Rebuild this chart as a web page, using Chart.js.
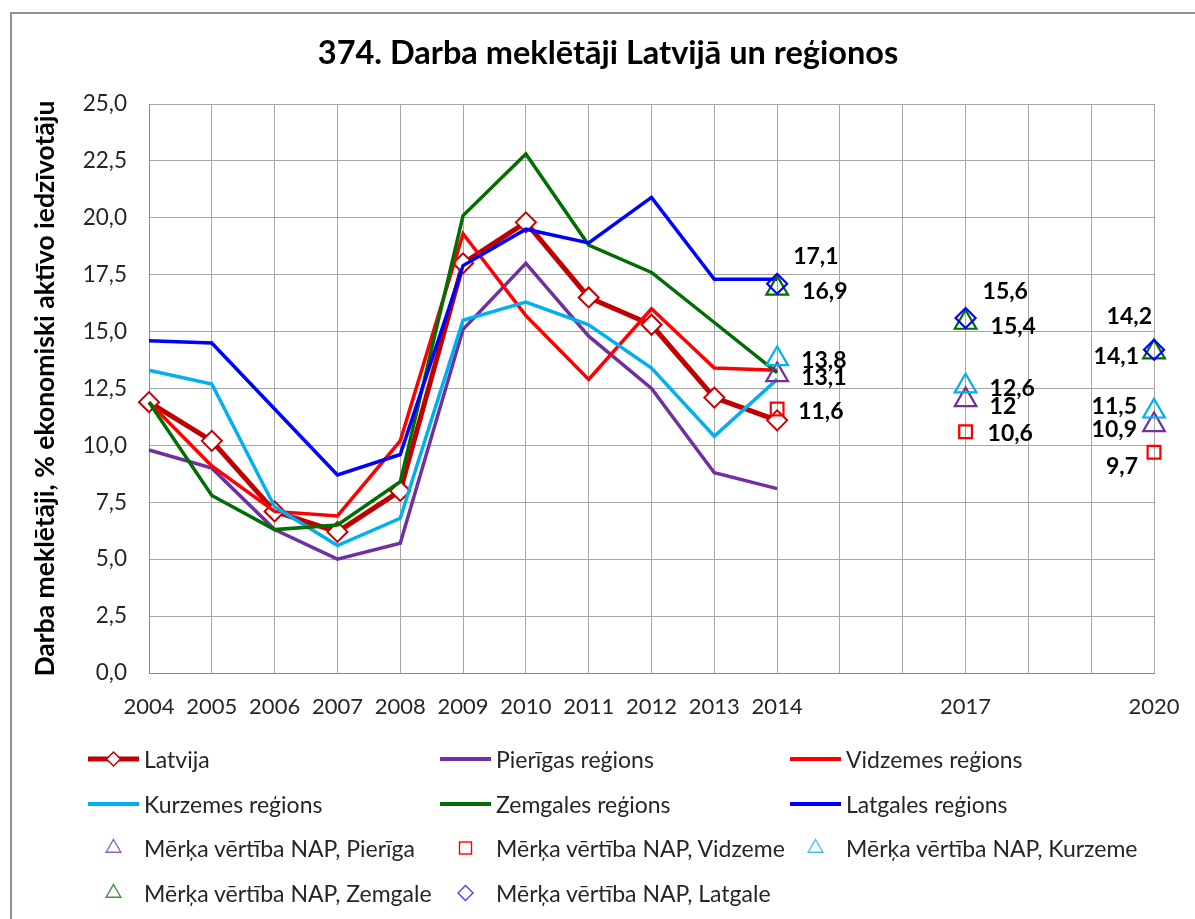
<!DOCTYPE html>
<html><head><meta charset="utf-8">
<script src="https://cdn.jsdelivr.net/npm/chart.js@4.4.1/dist/chart.umd.min.js"></script>
<style>
html,body{margin:0;padding:0;background:#fff;overflow:hidden;}
#wrap{position:relative;width:1195px;height:919px;overflow:hidden;}
#frame{position:absolute;left:10px;top:12px;width:1220px;height:940px;border:2px solid #8f8f8f;box-sizing:border-box;}
#c{position:absolute;left:0;top:0;}
#title{position:absolute;left:608px;top:32px;transform:translateX(-50%);font:bold 32.5px Lato;color:#000;white-space:nowrap;}
.item{position:absolute;display:flex;align-items:center;height:30px;font:23px Lato;color:#262626;white-space:nowrap;}
.item svg{flex:none;margin-right:5px;}
</style></head>
<body>
<div id="wrap">
  <div id="frame"></div>
  <canvas id="c" width="1195" height="919"></canvas>
  <div id="title">374. Darba meklētāji Latvijā un reģionos</div>
  <div id="legend"></div>
</div>
<script>
// ---- data ----
const years = ['2004','2005','2006','2007','2008','2009','2010','2011','2012','2013','2014','2015','2016','2017','2018','2019','2020'];
const tickLabels = ['2004','2005','2006','2007','2008','2009','2010','2011','2012','2013','2014','','','2017','','','2020'];
const latvija = [11.9,10.2,7.1,6.2,8.0,18.0,19.8,16.5,15.3,12.1,11.1,null,null,null,null,null,null];
const pieriga = [9.8,9.0,6.3,5.0,5.7,15.1,18.0,14.8,12.5,8.8,8.1,null,null,null,null,null,null];
const vidzeme = [11.9,9.1,7.1,6.9,10.2,19.3,15.7,12.9,16.0,13.4,13.3,null,null,null,null,null,null];
const kurzeme = [13.3,12.7,7.3,5.6,6.8,15.5,16.3,15.3,13.4,10.4,12.9,null,null,null,null,null,null];
const zemgale = [11.9,7.8,6.3,6.5,8.4,20.1,22.8,18.8,17.6,15.4,13.2,null,null,null,null,null,null];
const latgale = [14.6,14.5,11.6,8.7,9.6,17.9,19.5,18.9,20.9,17.3,17.3,null,null,null,null,null,null];
const targetPieriga = [null,null,null,null,null,null,null,null,null,null,13.1,null,null,12,null,null,10.9];
const targetVidzeme = [null,null,null,null,null,null,null,null,null,null,11.6,null,null,10.6,null,null,9.7];
const targetKurzeme = [null,null,null,null,null,null,null,null,null,null,13.8,null,null,12.6,null,null,11.5];
const targetZemgale = [null,null,null,null,null,null,null,null,null,null,16.9,null,null,15.4,null,null,14.1];
const targetLatgale = [null,null,null,null,null,null,null,null,null,null,17.1,null,null,15.6,null,null,14.2];

// ---- styles ----
const C = {lv:'#C00000', pi:'#7030A0', vi:'#FF0000', ku:'#00B0F0', ze:'#006E00', la:'#0000FF'};

function lineDs(label, data, color, extra){
  return Object.assign({label, data, borderColor:color, backgroundColor:color, borderWidth:3.5,
    pointRadius:0, pointHoverRadius:0, tension:0, fill:false, spanGaps:false}, extra||{});
}
function targetDs(label, data, color, style, radius){
  return {label, data, showLine:false, borderColor:color, backgroundColor:'rgba(0,0,0,0)',
    pointStyle:style, pointRadius:radius, pointHoverRadius:radius, pointBorderWidth:2.2,
    pointBorderColor:color, pointBackgroundColor:'rgba(0,0,0,0)'};
}

const datasets = [
  lineDs('Latvija', latvija, C.lv, {borderWidth:5, pointRadius:10, pointHoverRadius:10, pointStyle:'rectRot',
     pointBackgroundColor:'#fff', pointBorderColor:C.lv, pointBorderWidth:2}),
  lineDs('Pierīgas reģions', pieriga, C.pi),
  lineDs('Vidzemes reģions', vidzeme, C.vi),
  lineDs('Kurzemes reģions', kurzeme, C.ku),
  lineDs('Zemgales reģions', zemgale, C.ze),
  lineDs('Latgales reģions', latgale, C.la),
  targetDs('Mērķa vērtība NAP, Pierīga', targetPieriga, C.pi, 'triangle', 12.5),
  targetDs('Mērķa vērtība NAP, Vidzeme', targetVidzeme, C.vi, 'rect', 9),
  targetDs('Mērķa vērtība NAP, Kurzeme', targetKurzeme, C.ku, 'triangle', 12.5),
  targetDs('Mērķa vērtība NAP, Zemgale', targetZemgale, C.ze, 'triangle', 12.5),
  targetDs('Mērķa vērtība NAP, Latgale', targetLatgale, C.la, 'rectRot', 10)
];
datasets.forEach((d,i)=>{ d.order = 20 - i; });

// label placement for target values (dx to text edge, dy to text middle)
const labelPlacement = {
  'Mērķa vērtība NAP, Latgale': [{dx:16,dy:-27,align:'left'},{dx:17,dy:-26,align:'left'},{dx:-2,dy:-33,align:'right'}],
  'Mērķa vērtība NAP, Zemgale': [{dx:25,dy:3,align:'left'},{dx:25,dy:4,align:'left'},{dx:-15,dy:4,align:'right'}],
  'Mērķa vērtība NAP, Kurzeme': [{dx:24,dy:2,align:'left'},{dx:24,dy:2,align:'left'},{dx:-17,dy:-5,align:'right'}],
  'Mērķa vērtība NAP, Pierīga': [{dx:24,dy:3,align:'left'},{dx:24,dy:7,align:'left'},{dx:-17,dy:5,align:'right'}],
  'Mērķa vērtība NAP, Vidzeme': [{dx:21,dy:3,align:'left'},{dx:22,dy:2,align:'left'},{dx:-16,dy:14,align:'right'}]
};
const fmt = v => String(v).replace('.', ',');

const valueLabels = {
  id:'valueLabels',
  afterDatasetsDraw(chart){
    const ctx = chart.ctx;
    chart.data.datasets.forEach((ds, di) => {
      const place = labelPlacement[ds.label];
      if (!place) return;
      const meta = chart.getDatasetMeta(di);
      let k = 0;
      ds.data.forEach((v, i) => {
        if (v == null) return;
        const p = place[k++]; const el = meta.data[i];
        ctx.save();
        ctx.font = 'bold 23px Lato';
        ctx.fillStyle = '#000';
        ctx.textAlign = p.align;
        ctx.textBaseline = 'middle';
        ctx.fillText(fmt(v), el.x + p.dx, el.y + p.dy);
        ctx.restore();
      });
    });
  }
};

Chart.defaults.font.family = 'Lato';
Chart.defaults.color = '#262626';

const chart = new Chart(document.getElementById('c'), {
  type:'line',
  data:{labels:years, datasets},
  plugins:[valueLabels],
  options:{
    responsive:false, animation:false, devicePixelRatio:1,
    layout:{padding:{top:104, right:41, bottom:200, left:0}},
    plugins:{legend:{display:false}, title:{display:false}, tooltip:{enabled:false}},
    scales:{
      x:{
        type:'category', offset:false,
        grid:{color:'#A6A6A6', lineWidth:1, drawTicks:false},
        border:{display:true, color:'#8A8A8A', width:1},
        ticks:{autoSkip:false, maxRotation:0, minRotation:0, padding:21, font:{size:22},
          callback:(val, idx) => tickLabels[idx]},
        afterFit:(s) => { s.height = 46; s.paddingRight = 0; s.paddingLeft = 0; }
      },
      y:{
        min:0, max:25,
        grid:{color:'#A6A6A6', lineWidth:1, drawTicks:false},
        border:{display:true, color:'#8A8A8A', width:1},
        ticks:{stepSize:2.5, padding:22, font:{size:22.5}, callback:v => v.toFixed(1).replace('.', ',')},
        title:{display:true, text:'Darba meklētāji, % ekonomiski aktīvo iedzīvotāju',
          font:{size:26.5, weight:'bold'}, color:'#000', padding:{top:30, bottom:0}},
        afterFit:(s) => { s.width = 149; }
      }
    }
  }
});

// ---- HTML legend built from datasets ----
const colX = [88, 440, 790];
const rowY = [759, 804, 848, 893];
function iconSvg(ds){
  const w = 51, h = 30, cx = 25.5, cy = 15;
  let s = '';
  if (ds.showLine !== false) {
    s += `<line x1="0" y1="${cy}" x2="${w}" y2="${cy}" stroke="${ds.borderColor}" stroke-width="${ds.borderWidth===5?5:4}" stroke-linecap="round"/>`;
  }
  const st = ds.pointStyle;
  const stroke = ds.pointBorderColor || ds.borderColor;
  if (ds.label === 'Latvija') {
    const r = 7;
    s += `<polygon points="${cx},${cy-r} ${cx+r},${cy} ${cx},${cy+r} ${cx-r},${cy}" fill="#fff" stroke="${stroke}" stroke-width="1.5"/>`;
  } else if (st === 'triangle') {
    const r = 8.5;
    s += `<polygon points="${cx},${cy-r} ${cx+r*0.866},${cy+r/2} ${cx-r*0.866},${cy+r/2}" fill="none" stroke="${stroke}" stroke-width="1.4" opacity="0.75"/>`;
  } else if (st === 'rect') {
    s += `<rect x="${cx-6}" y="${cy-6}" width="12" height="12" fill="none" stroke="${stroke}" stroke-width="1.4"/>`;
  } else if (st === 'rectRot') {
    const r = 7.5;
    s += `<polygon points="${cx},${cy-r} ${cx+r},${cy} ${cx},${cy+r} ${cx-r},${cy}" fill="none" stroke="${stroke}" stroke-width="1.4" opacity="0.75"/>`;
  }
  return `<svg width="${w}" height="${h}" viewBox="0 0 ${w} ${h}">${s}</svg>`;
}
const leg = document.getElementById('legend');
chart.data.datasets.forEach((ds, i) => {
  const r = Math.floor(i / 3), c = i % 3;
  const div = document.createElement('div');
  div.className = 'item';
  div.style.left = colX[c] + 'px';
  div.style.top = (rowY[r] - 15) + 'px';
  div.innerHTML = iconSvg(ds) + '<span>' + ds.label + '</span>';
  leg.appendChild(div);
});
</script>
</body></html>
